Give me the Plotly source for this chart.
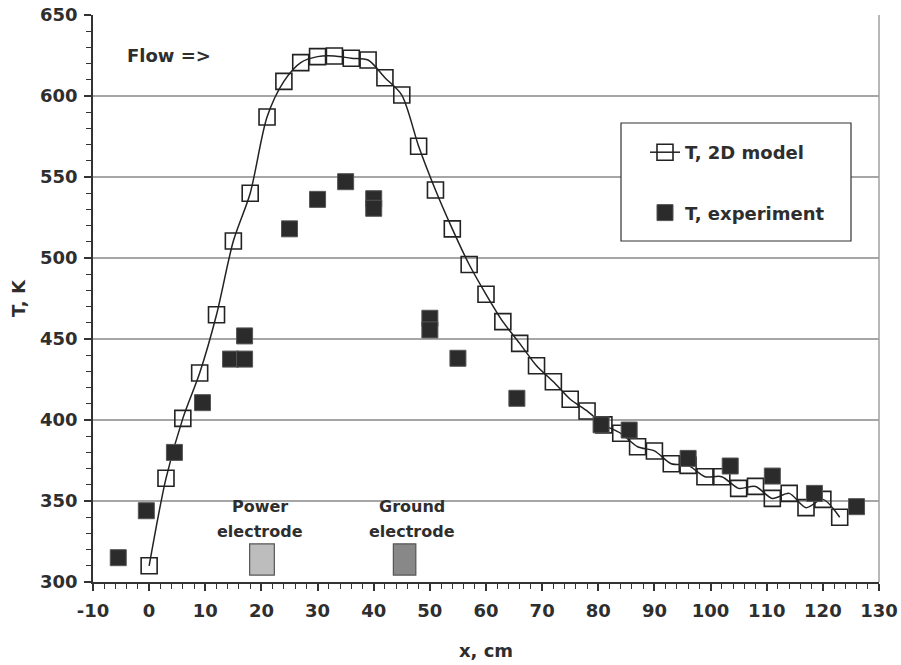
import plotly.graph_objects as go

# ---- data ----
model_x = [0, 3, 6, 9, 12, 15, 18, 21, 24, 27, 30, 33, 36, 39, 42, 45, 48, 51, 54, 57,
           60, 63, 66, 69, 72, 75, 78, 81, 84, 87, 90, 93, 96, 99, 102, 105, 108, 111,
           114, 117, 120, 123]
model_T = [310, 364, 401, 429, 465, 510.5, 540, 587, 609, 620.6, 624.3, 624.7, 623.3,
           622.2, 611.3, 600.6, 569, 542, 518, 496, 477.6, 460.7, 447.3, 433.5, 423.6,
           412.8, 405.6, 397, 391.8, 383.5, 380.9, 373, 372, 365, 365, 357.8, 359,
           351.6, 354.7, 345.9, 351, 340]

exp_x = [-5.5, -0.5, 4.5, 9.5, 14.5, 17, 17, 25, 30, 35, 40, 40, 50, 50, 55, 65.5,
         80.5, 85.5, 96, 103.5, 111, 118.5, 126]
exp_T = [315, 344, 380, 410.7, 437.6, 437.6, 451.9, 518, 536.2, 547.1, 536.6, 530.7,
         462.8, 455.6, 438.1, 413.4, 397, 393.8, 376.3, 371.6, 365.4, 354.7, 346.5]

x_ticks = [-10, 0, 10, 20, 30, 40, 50, 60, 70, 80, 90, 100, 110, 120, 130]
x_tick_labels = ["-10", "0", "10", "20", "30", "40", "50", "60", "70", "80", "90",
                 "100", "110", "120", "130"]

electrodes = [("Power", 17.9, 22.3, "#bdbdbd"), ("Ground", 43.5, 47.5, "#888888")]
electrode_T = (304.3, 323.5)

TXT = "#2e2e2e"
FONT = "DejaVu Sans"
BFONT = dict(size=18, color=TXT, family=FONT, weight="bold")

fig = go.Figure()
fig.add_trace(go.Scatter(
    x=model_x, y=model_T, mode="lines+markers", name="T, 2D model",
    line=dict(color="#222222", width=1.5, shape="spline", smoothing=0.8),
    marker=dict(symbol="square-open", size=16, color="#222222", line=dict(width=1.6)),
    legendgroup="a"))
fig.add_trace(go.Scatter(
    x=exp_x, y=exp_T, mode="markers", name="T, experiment",
    marker=dict(symbol="square", size=16, color="#2b2b2b", line=dict(width=1, color="#555555")),
    legendgroup="b"))

shapes = []
for name, x0, x1, col in electrodes:
    shapes.append(dict(type="rect", xref="x", yref="y", x0=x0, x1=x1,
                       y0=electrode_T[0], y1=electrode_T[1],
                       fillcolor=col, line=dict(color="#555555", width=1.2), layer="above"))
# right border
shapes.append(dict(type="line", xref="paper", yref="paper", x0=1, x1=1, y0=0, y1=1,
                   line=dict(color="#a0a0a0", width=1.5)))
# legend box
shapes.append(dict(type="rect", xref="paper", yref="paper",
                   x0=(621 - 93) / 786, x1=(851 - 93) / 786,
                   y0=(582 - 241) / 567, y1=(582 - 123) / 567,
                   fillcolor="white", line=dict(color="#333333", width=1.2), layer="above"))

SFONT = dict(size=16, color=TXT, family=FONT, weight="bold")
annotations = [
    dict(x=-4.3, y=625, xref="x", yref="y", text="Flow =>", showarrow=False,
         xanchor="left", yanchor="middle", font=BFONT),
    dict(x=19.8, y=346.3, xref="x", yref="y", text="Power", showarrow=False, font=SFONT),
    dict(x=19.8, y=330.9, xref="x", yref="y", text="electrode", showarrow=False, font=SFONT),
    dict(x=46.8, y=346.3, xref="x", yref="y", text="Ground", showarrow=False, font=SFONT),
    dict(x=46.8, y=330.9, xref="x", yref="y", text="electrode", showarrow=False, font=SFONT),
]

fig.update_layout(
    width=901, height=665,
    margin=dict(l=93, r=22, t=15, b=83, autoexpand=False),
    paper_bgcolor="white", plot_bgcolor="white",
    font=BFONT,
    shapes=shapes, annotations=annotations,
    showlegend=True,
    legend=dict(x=(645 - 93) / 786, y=(582 - 134) / 567, xanchor="left", yanchor="top",
                bgcolor="rgba(0,0,0,0)", borderwidth=0, tracegroupgap=34,
                font=BFONT),
)
fig.update_xaxes(
    range=[-10, 130], tickmode="array", tickvals=x_ticks, ticktext=x_tick_labels,
    showgrid=False, showline=True, linecolor="#333333", linewidth=1.5,
    ticks="outside", ticklen=7, tickwidth=1.5, tickcolor="#333333",
    tickfont=BFONT, ticklabelstandoff=5, automargin=False,
    minor=dict(tickmode="linear", tick0=0, dtick=2, ticks="outside", ticklen=5,
               tickwidth=1.2, tickcolor="#333333", showgrid=False),
    title=dict(text="x, cm", font=BFONT, standoff=24),
    zeroline=False,
)
fig.update_yaxes(
    range=[300, 650], dtick=50, tick0=300,
    showgrid=True, gridcolor="#a6a6a6", gridwidth=1.5,
    showline=True, linecolor="#333333", linewidth=1.5,
    ticks="outside", ticklen=7, tickwidth=1.5, tickcolor="#333333",
    tickfont=BFONT, ticklabelstandoff=3, automargin=False,
    minor=dict(tickmode="linear", tick0=300, dtick=10, ticks="outside", ticklen=5,
               tickwidth=1.2, tickcolor="#333333", showgrid=False),
    title=dict(text="T, K", font=BFONT, standoff=10),
    zeroline=False,
)

fig.write_html("out.html", config={"displayModeBar": False},
               post_script="document.body.style.margin='0px';document.body.style.overflow='hidden';")
